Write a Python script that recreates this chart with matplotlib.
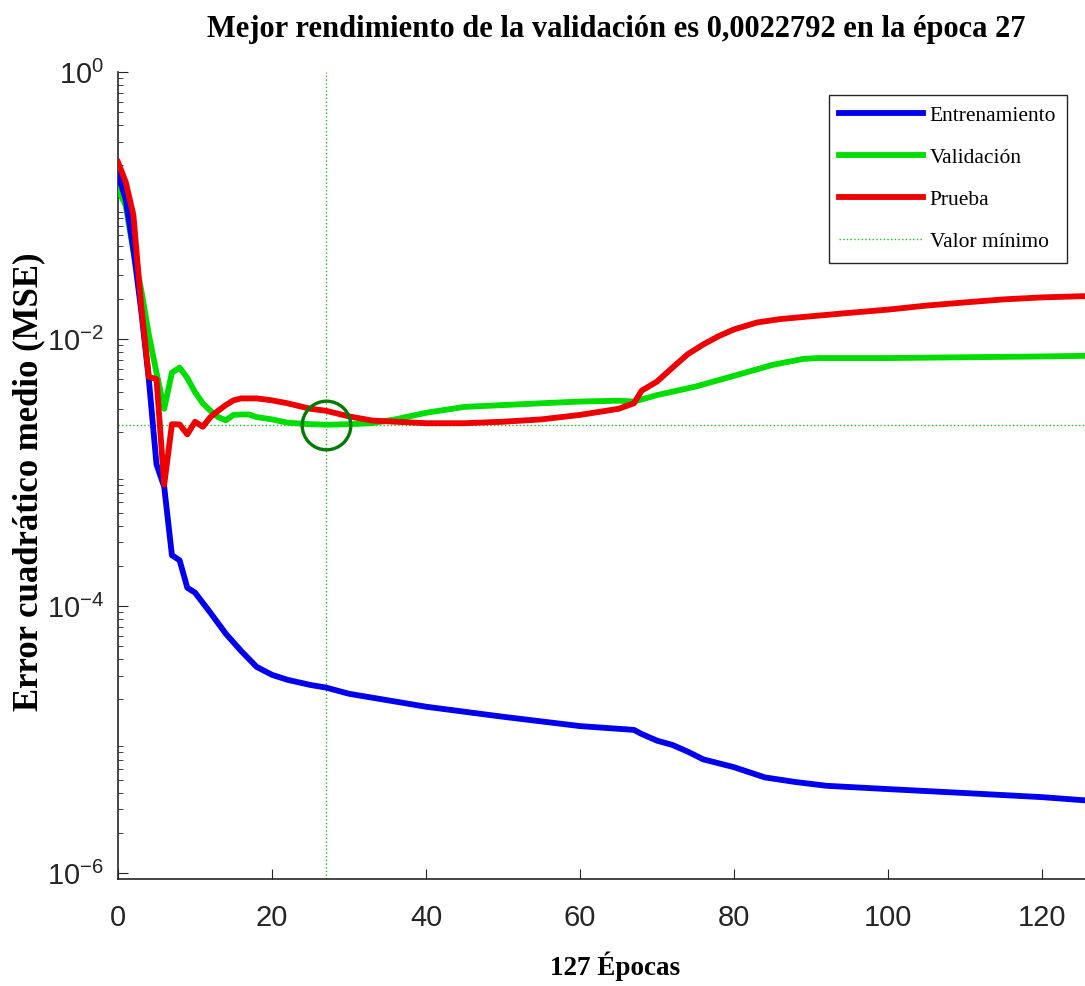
import matplotlib
matplotlib.use('Agg')
import matplotlib.pyplot as plt
import numpy as np
from matplotlib.ticker import LogLocator, FixedLocator

plt.rcParams['font.family'] = 'Liberation Sans'

# epochs and MSE values
ep_train = [0, 1, 2, 3, 4, 5, 6, 7, 8, 9, 10, 12, 14, 16, 18, 20, 22, 25, 27, 30,
            40, 50, 60, 67, 68, 70, 72, 74, 76, 80, 84, 88, 92, 100, 110, 120, 127]
mse_train = [0.172, 0.111, 0.047, 0.0166, 0.005, 0.00115, 7.8e-4, 2.4e-4, 2.2e-4,
             1.37e-4, 1.26e-4, 8.9e-5, 6.2e-5, 4.6e-5, 3.5e-5, 3.05e-5, 2.8e-5,
             2.56e-5, 2.45e-5, 2.2e-5, 1.76e-5, 1.48e-5, 1.26e-5, 1.18e-5, 1.1e-5,
             9.8e-6, 9.1e-6, 8.1e-6, 7.1e-6, 6.2e-6, 5.2e-6, 4.8e-6, 4.5e-6,
             4.25e-6, 3.97e-6, 3.7e-6, 3.45e-6]

ep_val = [0, 1, 2, 3, 4, 5, 6, 7, 8, 9, 10, 11, 12, 13, 14, 15, 16, 17, 18, 20,
          22, 25, 27, 30, 33, 36, 40, 45, 50, 55, 60, 65, 67, 70, 75, 80, 85, 89,
          91, 100, 110, 120, 127]
mse_val = [0.132, 0.10, 0.045, 0.0236, 0.0108, 0.0056, 0.0030, 0.0056, 0.0061,
           0.0051, 0.0040, 0.0033, 0.0029, 0.0026, 0.00246, 0.0027, 0.00272,
           0.00272, 0.0026, 0.0025, 0.00236, 0.0023, 0.0022792, 0.0023, 0.00234,
           0.0025, 0.0028, 0.0031, 0.0032, 0.0033, 0.0034, 0.00345, 0.0034,
           0.0038, 0.0044, 0.0053, 0.0064, 0.0071, 0.0072, 0.0072, 0.0073,
           0.0074, 0.0075]

ep_test = [0, 1, 2, 3, 4, 5, 6, 7, 8, 9, 10, 11, 12, 13, 14, 15, 16, 18, 20, 22,
           25, 27, 30, 33, 36, 40, 45, 50, 55, 60, 65, 67, 68, 70, 72, 74, 76, 78,
           80, 83, 86, 90, 95, 100, 105, 110, 115, 120, 125, 127]
mse_test = [0.211, 0.15, 0.085, 0.018, 0.0052, 0.0050, 8.1e-4, 0.0023, 0.00229,
            0.00193, 0.0024, 0.0022, 0.0026, 0.0029, 0.0032, 0.00347, 0.00359,
            0.00359, 0.00347, 0.0033, 0.0030, 0.0029, 0.00263, 0.00245, 0.0024,
            0.00234, 0.00234, 0.0024, 0.0025, 0.0027, 0.0030, 0.0033, 0.0041,
            0.0048, 0.0061, 0.0077, 0.0091, 0.0105, 0.0118, 0.0133, 0.0141,
            0.0148, 0.0157, 0.0166, 0.0178, 0.0188, 0.0198, 0.0205, 0.0209, 0.021]

best_epoch = 27
best_val = 0.0022792
n_epochs = 127

fig = plt.figure(figsize=(10.85, 9.86), dpi=100)
ax = fig.add_axes([118 / 1085, 107 / 986, 978 / 1085, 807 / 986])

ax.plot(ep_train, mse_train, color='#0000ee', lw=4.2, label='Entrenamiento', zorder=4)
ax.plot(ep_val, mse_val, color='#00dd00', lw=4.2, label='Validación', zorder=3)
ax.plot(ep_test, mse_test, color='#ee0000', lw=4.2, label='Prueba', zorder=5)
ax.axvline(best_epoch, color='#22bb22', lw=1.0, ls=':', zorder=2)
ax.axhline(best_val, color='#22bb22', lw=1.0, ls=':', zorder=2, label='Valor mínimo')
ax.plot([best_epoch], [best_val], 'o', ms=35, mfc='none', mec='#007a00', mew=2.4, zorder=6)

ax.set_yscale('log')
ax.set_xlim(0, n_epochs)
ax.set_ylim(10 ** -6.045, 1)
ax.set_xticks([0, 20, 40, 60, 80, 100, 120])
ax.yaxis.set_major_locator(FixedLocator([1e-6, 1e-4, 1e-2, 1e0]))
ax.yaxis.set_minor_locator(LogLocator(base=10, subs=np.arange(2, 10), numticks=20))
ax.tick_params(which='both', direction='in', colors='#262626', labelsize=21)
ax.tick_params(axis='x', pad=18, length=7)
ax.tick_params(axis='y', which='major', pad=10, length=7)
ax.tick_params(axis='y', which='minor', length=3.5)
ax.spines['top'].set_visible(False)
ax.spines['right'].set_visible(False)
for s in ('left', 'bottom'):
    ax.spines[s].set_color('#262626')
    ax.spines[s].set_linewidth(1.2)

serif = 'Liberation Serif'
fig.text(616 / 1085, 1 - 29 / 986,
         'Mejor rendimiento de la validación es 0,0022792 en la época 27',
         family=serif, weight='bold', fontsize=22, ha='center', va='center')
fig.text(615 / 1085, 1 - 966 / 986, '127 Épocas', family=serif, weight='bold',
         fontsize=19.5, ha='center', va='center')
fig.text(29 / 1085, 1 - 482 / 986, 'Error cuadrático medio (MSE)', family=serif,
         weight='bold', fontsize=25, ha='center', va='center', rotation=90)

leg = ax.legend(loc='upper right', bbox_to_anchor=(1067 / 1085, 1 - 95 / 986),
                bbox_transform=fig.transFigure, prop={'family': serif, 'size': 15.5},
                handlelength=3.9, handletextpad=0.3, labelspacing=1.02,
                borderpad=0.5, borderaxespad=0, fancybox=False, framealpha=1)
leg.get_frame().set_edgecolor('#262626')
leg.get_frame().set_linewidth(1.0)

fig.savefig('out.png', dpi=100, facecolor='white')
